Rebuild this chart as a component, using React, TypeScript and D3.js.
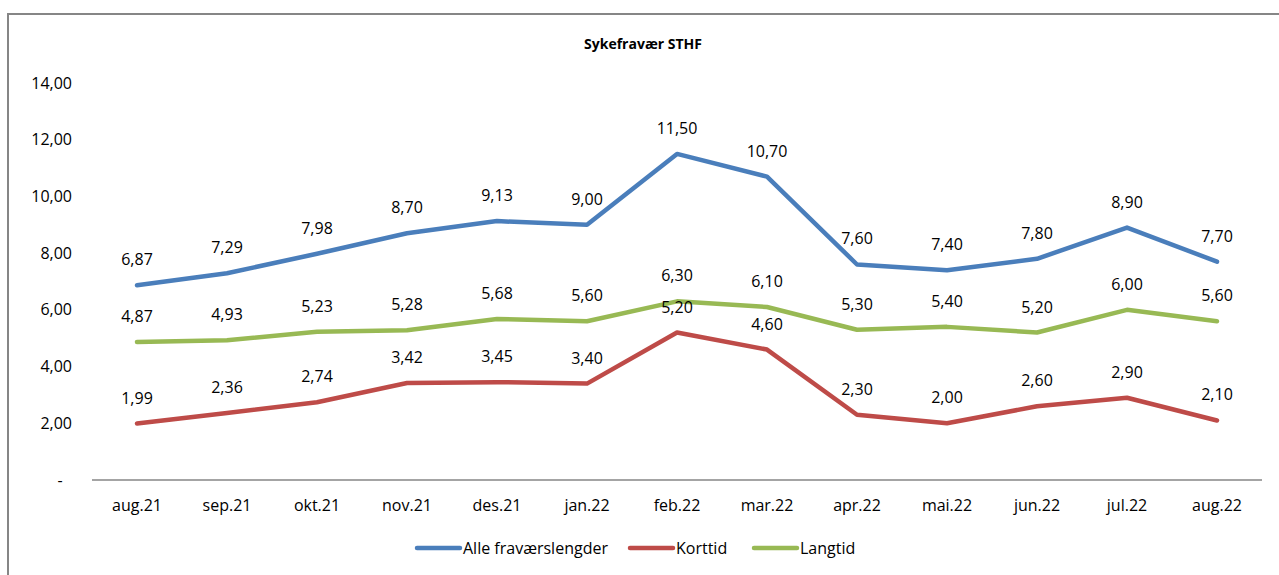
import * as d3 from "d3";

const months = ["aug.21", "sep.21", "okt.21", "nov.21", "des.21", "jan.22", "feb.22", "mar.22", "apr.22", "mai.22", "jun.22", "jul.22", "aug.22"];
const alle = [6.87, 7.29, 7.98, 8.7, 9.13, 9.0, 11.5, 10.7, 7.6, 7.4, 7.8, 8.9, 7.7];
const korttid = [1.99, 2.36, 2.74, 3.42, 3.45, 3.4, 5.2, 4.6, 2.3, 2.0, 2.6, 2.9, 2.1];
const langtid = [4.87, 4.93, 5.23, 5.28, 5.68, 5.6, 6.3, 6.1, 5.3, 5.4, 5.2, 6.0, 5.6];
const yTicks = [0, 2, 4, 6, 8, 10, 12, 14];

const seriesList = [
  { name: "Alle fraværslengder", values: alle, color: "#4a7ebb" },
  { name: "Korttid", values: korttid, color: "#be4b48" },
  { name: "Langtid", values: langtid, color: "#98b954" },
];

const font = "'Open Sans', sans-serif";
const fmt = (v: number) => v.toFixed(2).replace(".", ",");

export default function App() {
  const width = 1279;
  const height = 575;
  const left = 92;
  const right = 1262;

  const x = d3.scaleBand<string>().domain(months).range([left, right]);
  const y = d3.scaleLinear().domain([0, 14]).range([480, 83]);
  const cx = (m: string) => (x(m) ?? 0) + x.bandwidth() / 2;

  const path = d3
    .line<number>()
    .x((_, i) => cx(months[i]))
    .y((v) => y(v));

  const legendX = [415, 628, 752];

  return (
    <svg
      width={width}
      height={height}
      style={{ position: "absolute", left: 0, top: 0, background: "#fff" }}
      fontFamily={font}
    >
      <rect x={8} y={14} width={1290} height={600} fill="#fff" stroke="#868686" strokeWidth={2} />

      <text x={643} y={49} textAnchor="middle" fontSize={14} fontWeight="bold" fill="#000">
        Sykefravær STHF
      </text>

      {yTicks.map((t) => (
        <text key={t} x={72} y={y(t) + 5.5} textAnchor={t === 0 ? "middle" : "end"} dx={t === 0 ? -12 : 0} fontSize={16} fill="#000">
          {t === 0 ? "-" : fmt(t)}
        </text>
      ))}

      <line x1={left} x2={right} y1={y(0)} y2={y(0)} stroke="#868686" strokeWidth={1.5} />

      {months.map((m) => (
        <text key={m} x={cx(m)} y={y(0) + 31} textAnchor="middle" fontSize={16} fill="#000">
          {m}
        </text>
      ))}

      {seriesList.map((s) => (
        <path
          key={s.name}
          d={path(s.values) ?? ""}
          fill="none"
          stroke={s.color}
          strokeWidth={4.5}
          strokeLinejoin="round"
          strokeLinecap="round"
        />
      ))}

      {seriesList.map((s) =>
        s.values.map((v, i) => (
          <text key={s.name + i} x={cx(months[i])} y={y(v) - 20} textAnchor="middle" fontSize={16} fill="#000">
            {fmt(v)}
          </text>
        ))
      )}

      {seriesList.map((s, i) => (
        <g key={s.name} transform={`translate(${legendX[i]},548)`}>
          <line x1={2} x2={45} y1={0} y2={0} stroke={s.color} strokeWidth={4.5} strokeLinecap="round" />
          <text x={48} y={5.5} fontSize={16} fill="#000">
            {s.name}
          </text>
        </g>
      ))}
    </svg>
  );
}
